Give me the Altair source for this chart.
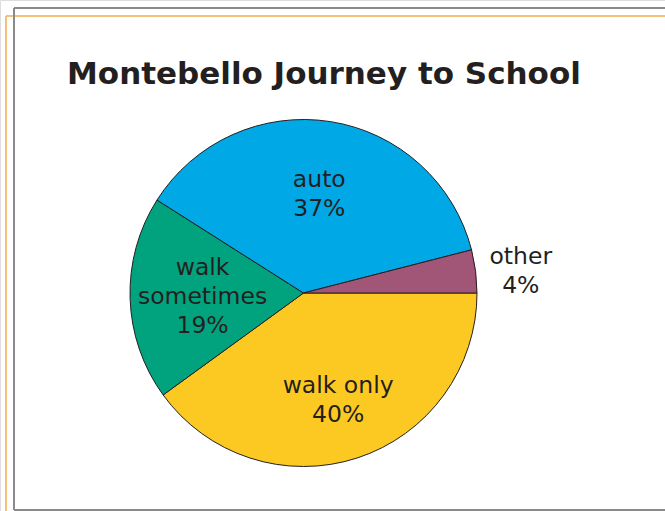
import math
import altair as alt
import pandas as pd

categories = ["walk only", "walk sometimes", "auto", "other"]
display_names = ["walk only", "walk\nsometimes", "auto", "other"]
values = [40, 19, 37, 4]
colors = ["#FCC923", "#00A37E", "#00A8E6", "#A15677"]
title_text = "Montebello Journey to School"

df = pd.DataFrame({
    "category": categories,
    "name": display_names,
    "value": values,
    "idx": list(range(len(categories))),
})

W, H = 665, 511
CX, CY = 303.5, 293
FONT = "DejaVu Sans"
INK = "#231F20"
LH = 29

base = alt.Chart(df).encode(
    theta=alt.Theta("value:Q", stack=True,
                    scale=alt.Scale(range=[math.pi / 2, math.pi / 2 + 2 * math.pi])),
    order=alt.Order("idx:Q"),
    x=alt.value(CX),
    y=alt.value(CY),
)

pie = base.mark_arc(radius=173.5, stroke=INK, strokeWidth=1).encode(
    color=alt.Color("category:N", sort=categories,
                    scale=alt.Scale(domain=categories, range=colors), legend=None)
)

labelled = base.transform_calculate(
    label="datum.name + '\\n' + datum.value + '%'"
)


def block_dy(extra):
    return {"expr": f"-(length(split(datum.label, '\\n')) - 1) * {LH / 2} + {extra}"}


inner_labels = labelled.mark_text(
    radius={"expr": "datum.category == 'walk only' ? 112 : 101"},
    dy=block_dy(1), font=FONT, fontSize=23.5, color=INK, lineBreak="\n",
    lineHeight=LH, align="center", baseline="middle"
).encode(
    text=alt.condition(alt.datum.category != "other", "label:N", alt.value(""))
)

outer_labels = labelled.mark_text(
    radius=219, dy=block_dy(6), font=FONT, fontSize=23.5, color=INK, lineBreak="\n",
    lineHeight=LH, align="center", baseline="middle"
).encode(
    text=alt.condition(alt.datum.category == "other", "label:N", alt.value(""))
)

one = alt.Chart(pd.DataFrame({"k": [0]}))

title = one.mark_text(
    text=title_text, font=FONT, fontSize=31, fontWeight="bold", color=INK,
    align="left", baseline="alphabetic"
).encode(x=alt.value(67), y=alt.value(83.5))

ORANGE = "#F5C07A"
GRAY = "#8A8A8A"
o_top = one.mark_rule(color=ORANGE, strokeWidth=2).encode(
    x=alt.value(6), x2=alt.value(W), y=alt.value(16))
o_left = one.mark_rule(color=ORANGE, strokeWidth=2).encode(
    x=alt.value(6), y=alt.value(16), y2=alt.value(H))
g_top = one.mark_rule(color=GRAY, strokeWidth=2).encode(
    x=alt.value(14), x2=alt.value(W), y=alt.value(8))
g_left = one.mark_rule(color=GRAY, strokeWidth=2).encode(
    x=alt.value(14), y=alt.value(8), y2=alt.value(510))
g_bottom = one.mark_rule(color=GRAY, strokeWidth=2).encode(
    x=alt.value(14), x2=alt.value(W), y=alt.value(510))

chart = alt.layer(
    o_top, o_left, g_top, g_left, g_bottom,
    pie, inner_labels, outer_labels, title
).properties(
    width=W, height=H, autosize=alt.AutoSizeParams(type="none"), padding=0
).configure_view(stroke=None).configure(background="white")

chart.save("out.html", embed_options={"renderer": "svg", "actions": False})
